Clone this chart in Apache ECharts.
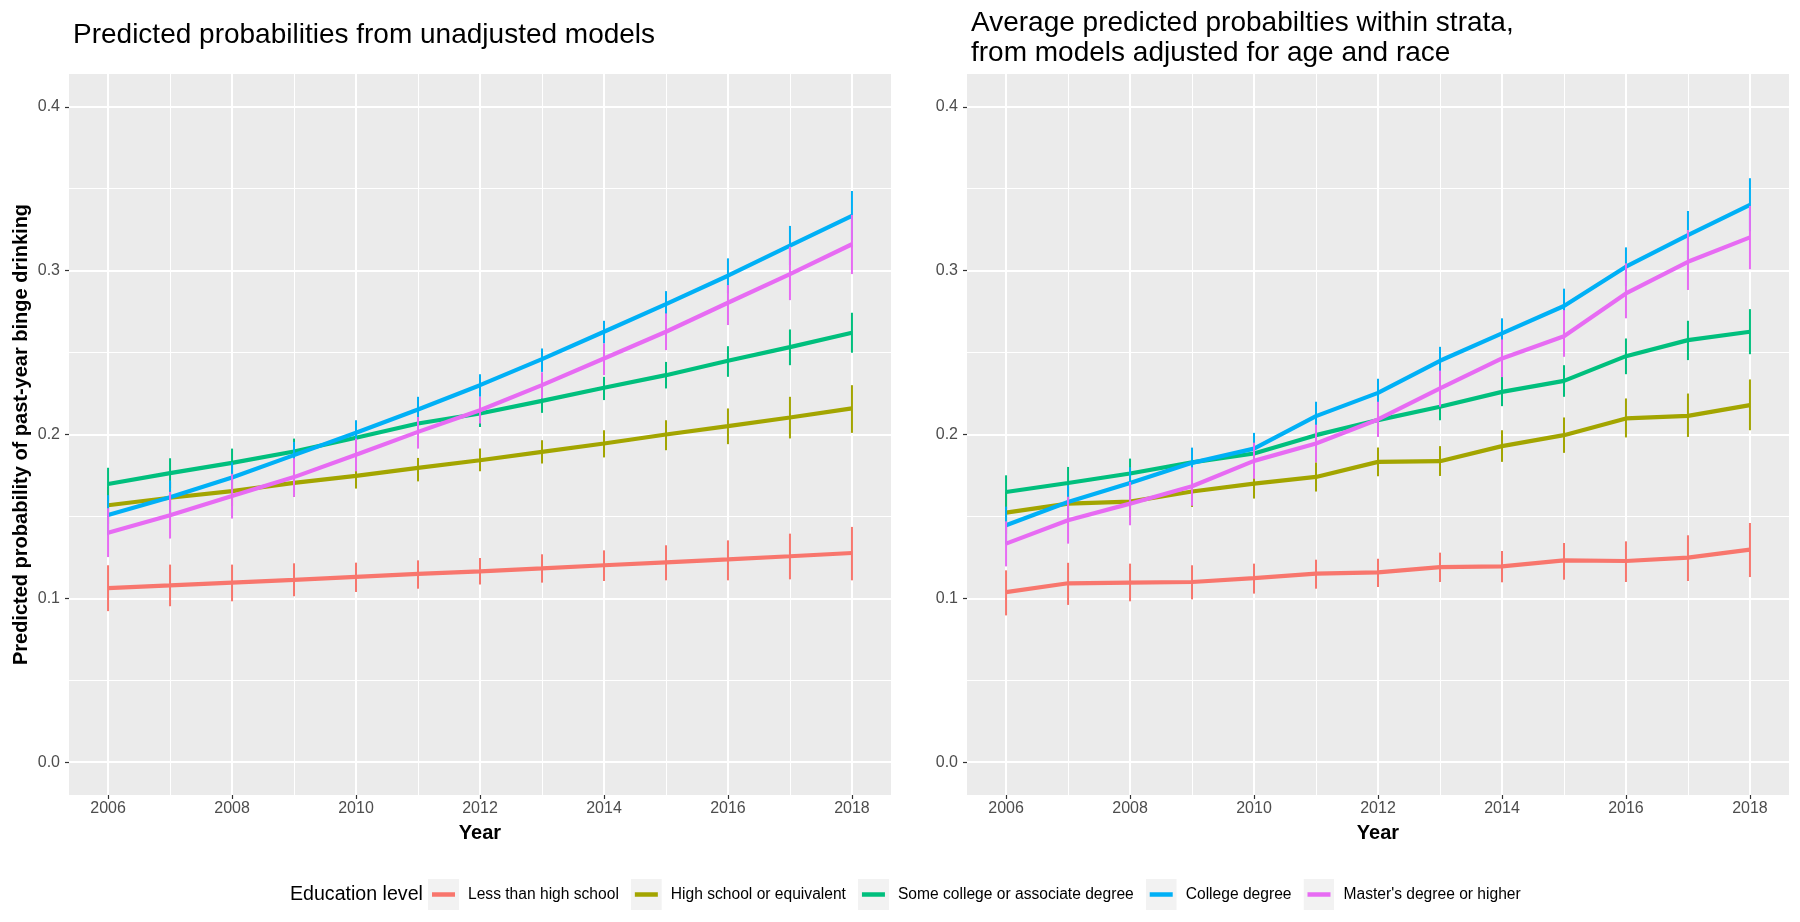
<!DOCTYPE html>
<html><head><meta charset="utf-8">
<script src="https://cdn.jsdelivr.net/npm/echarts@6/dist/echarts.min.js"></script>
<style>html,body{margin:0;padding:0;background:#fff}#c{width:1800px;height:922px}</style>
</head><body><div id="c"></div>
<script>
// ---------------- DATA ----------------
const years = [2006, 2007, 2008, 2009, 2010, 2011, 2012, 2013, 2014, 2015, 2016, 2017, 2018];
const groups = ['Less than high school', 'High school or equivalent', 'Some college or associate degree', 'College degree', "Master's degree or higher"];
const xTickLabels = [2006, 2008, 2010, 2012, 2014, 2016, 2018];
const xMinorBreaks = [2007, 2009, 2011, 2013, 2015, 2017];
const yTickLabels = [0, 0.1, 0.2, 0.3, 0.4];
const yMinorBreaks = [0.05, 0.15, 0.25, 0.35];
const panelTitles = ['Predicted probabilities from unadjusted models',
  'Average predicted probabilties within strata,\nfrom models adjusted for age and race'];

// Panel 1: unadjusted models (estimate, lower, upper)
const unadjLessHS    = [0.1063, 0.1079, 0.1096, 0.1113, 0.1131, 0.1149, 0.1165, 0.1183, 0.1202, 0.1220, 0.1238, 0.1257, 0.1277];
const unadjLessHSLo  = [0.0922, 0.0952, 0.0982, 0.1013, 0.1039, 0.1059, 0.1084, 0.1096, 0.1106, 0.1110, 0.1110, 0.1116, 0.1110];
const unadjLessHSHi  = [0.1202, 0.1206, 0.1206, 0.1214, 0.1218, 0.1232, 0.1246, 0.1269, 0.1293, 0.1324, 0.1354, 0.1395, 0.1436];
const unadjHS        = [0.1568, 0.1614, 0.1654, 0.1705, 0.1748, 0.1796, 0.1843, 0.1894, 0.1945, 0.2000, 0.2051, 0.2104, 0.2159];
const unadjHSLo      = [0.1456, 0.1520, 0.1562, 0.1620, 0.1670, 0.1714, 0.1776, 0.1823, 0.1860, 0.1904, 0.1941, 0.1976, 0.2010];
const unadjHSHi      = [0.1680, 0.1710, 0.1746, 0.1790, 0.1825, 0.1857, 0.1914, 0.1965, 0.2026, 0.2087, 0.2159, 0.2230, 0.2301];
const unadjSomeCol   = [0.1698, 0.1764, 0.1827, 0.1896, 0.1980, 0.2067, 0.2128, 0.2205, 0.2285, 0.2362, 0.2450, 0.2533, 0.2621];
const unadjSomeColLo = [0.1595, 0.1670, 0.1740, 0.1815, 0.1905, 0.1992, 0.2046, 0.2132, 0.2210, 0.2281, 0.2352, 0.2423, 0.2499];
const unadjSomeColHi = [0.1797, 0.1855, 0.1914, 0.1975, 0.2055, 0.2140, 0.2214, 0.2271, 0.2352, 0.2443, 0.2539, 0.2641, 0.2743];
const unadjCol       = [0.1509, 0.1617, 0.1738, 0.1874, 0.2011, 0.2153, 0.2301, 0.2460, 0.2627, 0.2796, 0.2969, 0.3152, 0.3334];
const unadjColLo     = [0.1385, 0.1510, 0.1645, 0.1790, 0.1935, 0.2067, 0.2230, 0.2382, 0.2555, 0.2718, 0.2861, 0.3034, 0.3187];
const unadjColHi     = [0.1630, 0.1720, 0.1830, 0.1955, 0.2087, 0.2230, 0.2367, 0.2525, 0.2694, 0.2875, 0.3075, 0.3273, 0.3486];
const unadjMast      = [0.1400, 0.1507, 0.1625, 0.1740, 0.1876, 0.2016, 0.2148, 0.2301, 0.2464, 0.2627, 0.2804, 0.2979, 0.3161];
const unadjMastLo    = [0.1252, 0.1365, 0.1487, 0.1619, 0.1775, 0.1914, 0.2067, 0.2220, 0.2362, 0.2515, 0.2668, 0.2820, 0.2979];
const unadjMastHi    = [0.1550, 0.1650, 0.1760, 0.1855, 0.1975, 0.2107, 0.2230, 0.2380, 0.2556, 0.2739, 0.2912, 0.3146, 0.3340];

// Panel 2: adjusted for age and race (estimate, lower, upper)
const adjLessHS      = [0.1038, 0.1092, 0.1096, 0.1100, 0.1124, 0.1151, 0.1159, 0.1191, 0.1195, 0.1232, 0.1228, 0.1249, 0.1297];
const adjLessHSLo    = [0.0896, 0.0960, 0.0982, 0.0994, 0.1029, 0.1059, 0.1069, 0.1100, 0.1098, 0.1114, 0.1100, 0.1106, 0.1130];
const adjLessHSHi    = [0.1171, 0.1217, 0.1212, 0.1202, 0.1212, 0.1236, 0.1242, 0.1279, 0.1289, 0.1338, 0.1348, 0.1385, 0.1460];
const adjHS          = [0.1523, 0.1578, 0.1590, 0.1652, 0.1700, 0.1741, 0.1833, 0.1837, 0.1929, 0.1996, 0.2098, 0.2114, 0.2179];
const adjHSLo        = [0.1395, 0.1478, 0.1493, 0.1558, 0.1609, 0.1652, 0.1745, 0.1747, 0.1833, 0.1888, 0.1982, 0.1985, 0.2026];
const adjHSHi        = [0.1650, 0.1680, 0.1690, 0.1745, 0.1786, 0.1830, 0.1920, 0.1929, 0.2026, 0.2104, 0.2220, 0.2250, 0.2336];
const adjSomeCol     = [0.1649, 0.1704, 0.1762, 0.1830, 0.1884, 0.1996, 0.2088, 0.2169, 0.2260, 0.2327, 0.2478, 0.2576, 0.2627];
const adjSomeColLo   = [0.1545, 0.1605, 0.1670, 0.1745, 0.1800, 0.1912, 0.2005, 0.2087, 0.2173, 0.2230, 0.2368, 0.2454, 0.2490];
const adjSomeColHi   = [0.1751, 0.1802, 0.1853, 0.1914, 0.1970, 0.2080, 0.2170, 0.2260, 0.2352, 0.2423, 0.2586, 0.2694, 0.2765];
const adjCol         = [0.1446, 0.1588, 0.1704, 0.1827, 0.1914, 0.2112, 0.2254, 0.2450, 0.2617, 0.2784, 0.3024, 0.3217, 0.3401];
const adjColLo       = [0.1330, 0.1485, 0.1610, 0.1735, 0.1820, 0.2025, 0.2165, 0.2365, 0.2525, 0.2680, 0.2905, 0.3070, 0.3240];
const adjColHi       = [0.1560, 0.1690, 0.1800, 0.1920, 0.2010, 0.2200, 0.2340, 0.2535, 0.2709, 0.2890, 0.3142, 0.3364, 0.3564];
const adjMast        = [0.1334, 0.1477, 0.1578, 0.1684, 0.1839, 0.1945, 0.2092, 0.2281, 0.2464, 0.2600, 0.2861, 0.3054, 0.3203];
const adjMastLo      = [0.1195, 0.1334, 0.1446, 0.1565, 0.1730, 0.1830, 0.1985, 0.2170, 0.2350, 0.2474, 0.2709, 0.2882, 0.3008];
const adjMastHi      = [0.1470, 0.1620, 0.1710, 0.1800, 0.1950, 0.2060, 0.2200, 0.2390, 0.2580, 0.2759, 0.3045, 0.3248, 0.3395];

// ---------------- STYLE / BUILD ----------------
const colors = ['#F8766D', '#A3A500', '#00BF7D', '#00B0F6', '#E76BF3'];
const FONT = '"Liberation Sans", Arial, Helvetica, sans-serif';
const panels = [
  [[unadjLessHS, unadjLessHSLo, unadjLessHSHi], [unadjHS, unadjHSLo, unadjHSHi], [unadjSomeCol, unadjSomeColLo, unadjSomeColHi], [unadjCol, unadjColLo, unadjColHi], [unadjMast, unadjMastLo, unadjMastHi]],
  [[adjLessHS, adjLessHSLo, adjLessHSHi], [adjHS, adjHSLo, adjHSHi], [adjSomeCol, adjSomeColLo, adjSomeColHi], [adjCol, adjColLo, adjColHi], [adjMast, adjMastLo, adjMastHi]]
];
const gridLefts = [69, 967];
const grids = [], xAxes = [], yAxes = [], series = [];
gridLefts.forEach((left, p) => {
  grids.push({left: left, top: 74, width: 822, height: 721, show: true, backgroundColor: '#EBEBEB', borderWidth: 0, containLabel: false});
  // major x
  xAxes.push({type: 'value', gridIndex: p, min: 2005.37, max: 2018.63, position: 'bottom',
    name: 'Year', nameLocation: 'middle', nameGap: 28,
    nameTextStyle: {fontFamily: FONT, fontSize: 20, fontWeight: 'bold', color: '#000'},
    axisLine: {show: false, onZero: false},
    axisTick: {show: true, length: 4, customValues: xTickLabels, lineStyle: {color: '#333', width: 1.2}},
    axisLabel: {customValues: xTickLabels, margin: 6, fontFamily: FONT, fontSize: 16, color: '#4D4D4D', formatter: v => String(v)},
    splitLine: {show: true, lineStyle: {color: '#FFFFFF', width: 2}}});
  // minor x
  xAxes.push({type: 'value', gridIndex: p, min: 2005.37, max: 2018.63, position: 'bottom',
    axisLine: {show: false, onZero: false}, axisTick: {show: false, customValues: xMinorBreaks},
    axisLabel: {show: false, customValues: xMinorBreaks},
    splitLine: {show: true, lineStyle: {color: '#FFFFFF', width: 1}}});
  // major y
  yAxes.push({type: 'value', gridIndex: p, min: -0.02, max: 0.42, position: 'left',
    name: p === 0 ? 'Predicted probability of past-year binge drinking' : '',
    nameLocation: 'middle', nameGap: 38,
    nameTextStyle: {fontFamily: FONT, fontSize: 20, fontWeight: 'bold', color: '#000'},
    axisLine: {show: false, onZero: false},
    axisTick: {show: true, length: 4, customValues: yTickLabels, lineStyle: {color: '#333', width: 1.2}},
    axisLabel: {customValues: yTickLabels, margin: 9, fontFamily: FONT, fontSize: 16, color: '#4D4D4D', formatter: v => v.toFixed(1)},
    splitLine: {show: true, lineStyle: {color: '#FFFFFF', width: 2}}});
  // minor y
  yAxes.push({type: 'value', gridIndex: p, min: -0.02, max: 0.42, position: 'left',
    axisLine: {show: false, onZero: false}, axisTick: {show: false, customValues: yMinorBreaks},
    axisLabel: {show: false, customValues: yMinorBreaks},
    splitLine: {show: true, lineStyle: {color: '#FFFFFF', width: 1}}});
});

panels.forEach((panel, p) => {
  panel.forEach((arrs, g) => {
    const [est] = arrs;
    series.push({type: 'line', name: groups[g], xAxisIndex: p * 2, yAxisIndex: p * 2,
      data: years.map((y, i) => [y, est[i]]), symbol: 'none', showSymbol: false,
      lineStyle: {color: colors[g], width: 4.2}, itemStyle: {color: colors[g]}, z: 2, silent: true});
  });
  panel.forEach((arrs, g) => {
    const [, lo, hi] = arrs;
    const col = colors[g];
    series.push({type: 'custom', name: groups[g], xAxisIndex: p * 2, yAxisIndex: p * 2,
      data: years.map((y, i) => [y, lo[i], hi[i]]), encode: {x: 0, y: [1, 2]}, z: 3, silent: true,
      itemStyle: {color: col},
      renderItem: (params, api) => {
        const a = api.coord([api.value(0), api.value(1)]);
        const b = api.coord([api.value(0), api.value(2)]);
        return {type: 'line', shape: {x1: a[0], y1: a[1], x2: b[0], y2: b[1]}, style: {stroke: col, lineWidth: 2}};
      }});
  });
});

function keyIcon(color) {
  const svg = "<svg xmlns='http://www.w3.org/2000/svg' width='31' height='31'><rect width='31' height='31' fill='#F2F2F2'/><line x1='4' y1='15.5' x2='27' y2='15.5' stroke='" + color + "' stroke-width='4.5'/></svg>";
  return 'image://data:image/svg+xml;charset=utf-8,' + encodeURIComponent(svg);
}

const option = {
  animation: false,
  backgroundColor: '#FFFFFF',
  title: [
    {text: panelTitles[0], left: 68, top: 15.5, textStyle: {fontFamily: FONT, fontSize: 28, fontWeight: 'normal', color: '#000', lineHeight: 30}},
    {text: panelTitles[1], left: 966, top: 3, textStyle: {fontFamily: FONT, fontSize: 28, fontWeight: 'normal', color: '#000', lineHeight: 30}},
    {text: 'Education level', left: 285, top: 878, textStyle: {fontFamily: FONT, fontSize: 19.6, fontWeight: 'normal', color: '#000', lineHeight: 24}}
  ],
  legend: {
    left: 428, top: 879, padding: 0, orient: 'horizontal',
    itemWidth: 31, itemHeight: 31, itemGap: 12,
    selectedMode: false,
    data: groups.map((g, i) => ({name: g, icon: keyIcon(colors[i])})),
    textStyle: {fontFamily: FONT, fontSize: 15.6, color: '#000', padding: [0, 0, 0, 4]}
  },
  grid: grids, xAxis: xAxes, yAxis: yAxes, series: series
};
const chart = echarts.init(document.getElementById('c'), null, {renderer: 'canvas'});
chart.setOption(option);
</script></body></html>
